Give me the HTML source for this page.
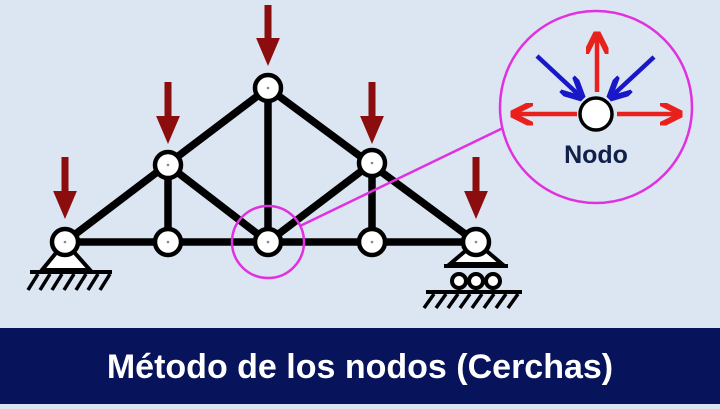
<!DOCTYPE html>
<html><head><style>body{margin:0;width:720px;height:404px;overflow:hidden;background:#dce5f2}</style></head><body>
<svg width="720" height="404" xmlns="http://www.w3.org/2000/svg">
<defs>
<marker id="dr" markerWidth="4" markerHeight="4" refX="2" refY="2" orient="auto" markerUnits="strokeWidth"><path d="M0,0.3 L4,2 L0,3.7z" fill="#8b0d0d"/></marker>
<marker id="rd" markerWidth="5" markerHeight="5" refX="4" refY="2.5" orient="auto" markerUnits="strokeWidth"><path d="M0,0 L5,2.5 L0,5" fill="none" stroke="#e8211c" stroke-width="1.3"/></marker>
<marker id="bl" markerWidth="5" markerHeight="5" refX="4" refY="2.5" orient="auto" markerUnits="strokeWidth"><path d="M0,0 L5,2.5 L0,5" fill="none" stroke="#1818c8" stroke-width="1.3"/></marker>
</defs>
<rect width="720" height="404" fill="#dce5f2"/>
<g stroke="#8b0d0d" stroke-width="7" marker-end="url(#dr)">
<line x1="65" y1="157" x2="65" y2="205"/>
<line x1="168" y1="82" x2="168" y2="130"/>
<line x1="268" y1="5" x2="268" y2="52"/>
<line x1="372" y1="82" x2="372" y2="130"/>
<line x1="476" y1="157" x2="476" y2="205"/>
</g>
<g stroke="#000" stroke-width="4">
<path d="M65,242 L42,270 L90,270 Z" fill="#fff"/>
<line x1="30" y1="272" x2="112" y2="272"/>
<path d="M38,274 l-10,16 M50,274 l-10,16 M62,274 l-10,16 M74,274 l-10,16 M86,274 l-10,16 M98,274 l-10,16 M110,274 l-10,16" stroke-width="3.5"/>
<path d="M476,242 L450,264 L502,264 Z" fill="#fff"/>
<line x1="444" y1="266" x2="508" y2="266"/>
<circle cx="459" cy="281" r="7" fill="#fff"/><circle cx="476" cy="281" r="7" fill="#fff"/><circle cx="493" cy="281" r="7" fill="#fff"/>
<line x1="426" y1="292" x2="522" y2="292"/>
<path d="M434,294 l-10,14 M446,294 l-10,14 M458,294 l-10,14 M470,294 l-10,14 M482,294 l-10,14 M494,294 l-10,14 M506,294 l-10,14 M518,294 l-10,14" stroke-width="3.5"/>
</g>
<g stroke="#000" stroke-width="7.5" stroke-linecap="round">
<line x1="65" y1="242" x2="476" y2="242"/>
<line x1="65" y1="242" x2="268" y2="88"/>
<line x1="268" y1="88" x2="476" y2="242"/>
<line x1="268" y1="88" x2="268" y2="242"/>
<line x1="168" y1="165" x2="168" y2="242"/>
<line x1="372" y1="163" x2="372" y2="242"/>
<line x1="168" y1="165" x2="268" y2="242"/>
<line x1="372" y1="163" x2="268" y2="242"/>
</g>
<g fill="#fff" stroke="#000" stroke-width="4.5">
<circle cx="65" cy="242" r="13"/><circle cx="168" cy="165" r="13"/><circle cx="268" cy="88" r="13"/>
<circle cx="372" cy="163" r="13"/><circle cx="476" cy="242" r="13"/><circle cx="168" cy="242" r="13"/>
<circle cx="268" cy="242" r="13"/><circle cx="372" cy="242" r="13"/>
</g>
<g fill="#888"><circle cx="65" cy="242" r="1.3"/><circle cx="168" cy="165" r="1.3"/><circle cx="268" cy="88" r="1.3"/><circle cx="372" cy="163" r="1.3"/><circle cx="476" cy="242" r="1.3"/><circle cx="168" cy="242" r="1.3"/><circle cx="268" cy="242" r="1.3"/><circle cx="372" cy="242" r="1.3"/><circle cx="596" cy="114" r="1.3"/></g>
<g fill="none" stroke="#e030e0" stroke-width="2.5">
<circle cx="268" cy="242" r="36"/>
<circle cx="596" cy="107" r="96"/>
<line x1="300" y1="226" x2="503" y2="128"/>
</g>
<g stroke-width="4.5">
<line x1="597" y1="92" x2="597" y2="36" stroke="#e8211c" marker-end="url(#rd)"/>
<line x1="577" y1="114" x2="515" y2="114" stroke="#e8211c" marker-end="url(#rd)"/>
<line x1="617" y1="114" x2="678" y2="114" stroke="#e8211c" marker-end="url(#rd)"/>
<line x1="537" y1="56" x2="580" y2="96" stroke="#1818c8" marker-end="url(#bl)"/>
<line x1="654" y1="57" x2="612" y2="96" stroke="#1818c8" marker-end="url(#bl)"/>
</g>
<circle cx="596" cy="114" r="16" fill="#fff" stroke="#000" stroke-width="3.5"/>
<text x="596" y="163" text-anchor="middle" font-family="Liberation Sans, sans-serif" font-weight="bold" font-size="25" fill="#10204a">Nodo</text>
<rect x="0" y="328" width="720" height="76" fill="#07135a"/>
<text x="360" y="378" text-anchor="middle" font-family="Liberation Sans, sans-serif" font-weight="bold" font-size="34" fill="#fff">Método de los nodos (Cerchas)</text>
</svg>
</body></html>
